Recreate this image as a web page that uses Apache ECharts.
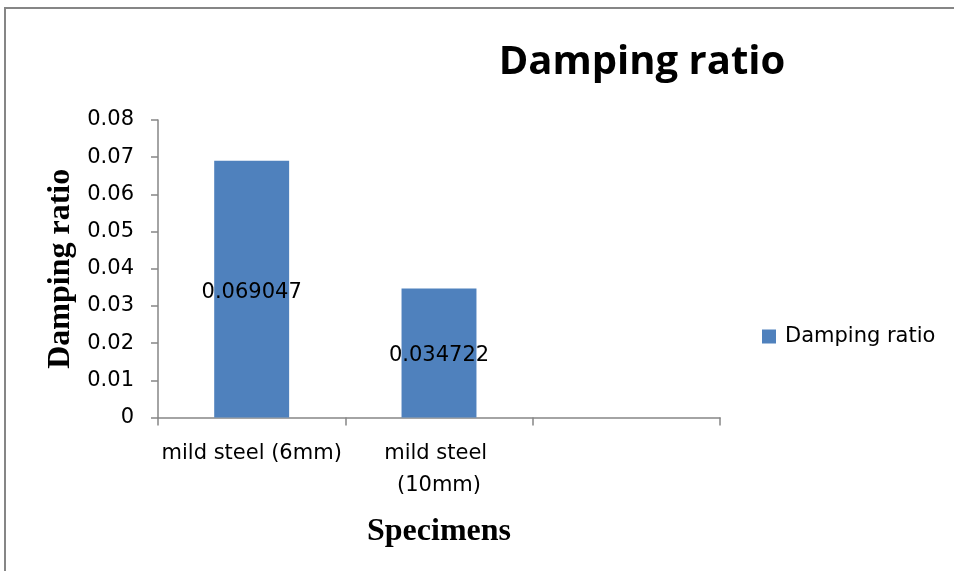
<!DOCTYPE html>
<html>
<head>
<meta charset="utf-8">
<style>
  html, body { margin: 0; padding: 0; background: #ffffff; }
  #chart { width: 954px; height: 571px; }
</style>
<script src="https://cdn.jsdelivr.net/npm/echarts@6/dist/echarts.min.js"></script>
</head>
<body>
<div id="chart"></div>
<script>
// Damping ratio per specimen
const categories = ["mild steel (6mm)", "mild steel (10mm)", ""];
const dampingRatio = [0.069047, 0.034722, null];
const seriesName = "Damping ratio";

const chart = echarts.init(document.getElementById("chart"));
const axisGray = "#868686";
const sans = "'DejaVu Sans', sans-serif";
const titleFont = "'Open Sans', sans-serif";
const serif = "'Liberation Serif', 'DejaVu Serif', serif";

chart.setOption({
  animation: false,
  backgroundColor: "#ffffff",
  graphic: [{
    type: "rect",
    shape: { x: 5, y: 8, width: 1000, height: 600 },
    style: { fill: "none", stroke: axisGray, lineWidth: 2 },
    silent: true
  }],
  title: {
    text: "Damping ratio",
    left: 637,
    top: 38,
    textAlign: "center",
    textStyle: { fontFamily: titleFont, fontWeight: "bold", fontSize: 40, color: "#000" }
  },
  legend: {
    data: [seriesName],
    left: 757,
    top: 321,
    itemWidth: 14,
    itemHeight: 14,
    icon: "rect",
    textStyle: { fontFamily: sans, fontSize: 21, color: "#000", padding: [0, 0, 0, 4] }
  },
  grid: { left: 158, right: 234, top: 120, bottom: 153.5, containLabel: false },
  xAxis: {
    type: "category",
    data: categories,
    boundaryGap: true,
    name: "Specimens",
    nameLocation: "middle",
    nameGap: 98,
    nameTextStyle: { fontFamily: serif, fontWeight: "bold", fontSize: 32, color: "#000" },
    axisLine: { show: true, lineStyle: { color: axisGray, width: 1.5 } },
    axisTick: { show: true, alignWithLabel: false, length: 8, lineStyle: { color: axisGray, width: 1.5 } },
    axisLabel: {
      interval: 0,
      margin: 20,
      fontFamily: sans,
      fontSize: 21,
      color: "#000",
      lineHeight: 32,
      width: 187,
      overflow: "break"
    },
    splitLine: { show: false }
  },
  yAxis: {
    type: "value",
    min: 0,
    max: 0.08,
    interval: 0.01,
    name: "Damping ratio",
    nameLocation: "middle",
    nameRotate: 90,
    nameGap: 78,
    nameTextStyle: { fontFamily: serif, fontWeight: "bold", fontSize: 32, color: "#000" },
    axisLine: { show: true, lineStyle: { color: axisGray, width: 1.5 } },
    axisTick: { show: true, length: 7, lineStyle: { color: axisGray, width: 1.5 } },
    axisLabel: { margin: 24, fontFamily: sans, fontSize: 21, color: "#000" },
    splitLine: { show: false }
  },
  series: [{
    name: seriesName,
    type: "bar",
    data: dampingRatio,
    barWidth: "40%",
    itemStyle: { color: "#4F81BD" },
    label: {
      show: true,
      position: "inside",
      offset: [0, 3],
      fontFamily: sans,
      fontSize: 21,
      color: "#000",
      formatter: p => String(p.value)
    }
  }]
});
</script>
</body>
</html>
